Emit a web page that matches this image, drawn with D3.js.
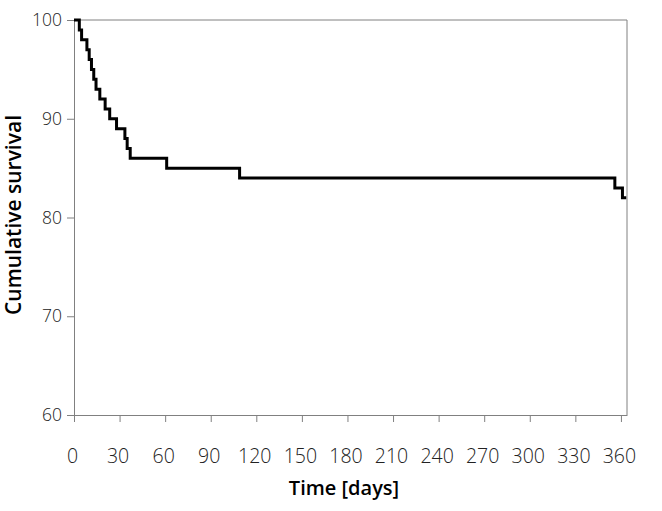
<!DOCTYPE html>
<html>
<head>
<meta charset="utf-8">
<script src="https://cdn.jsdelivr.net/npm/d3@7"></script>
<style>
  body { margin: 0; background: #fff; }
  svg { display: block; font-family: "Open Sans", sans-serif; }
</style>
</head>
<body>
<div id="chart"></div>
<script>
// event times (days) and survival (%) after each step
const days = [0, 3.5, 5, 8.5, 10, 11.5, 13, 14.5, 17, 20.5, 23.5, 28, 33.5, 35, 37, 61, 109, 356, 361, 363.5];
const survival = [100, 99, 98, 97, 96, 95, 94, 93, 92, 91, 90, 89, 88, 87, 86, 85, 84, 83, 82, 82];
const xTicks = [0, 30, 60, 90, 120, 150, 180, 210, 240, 270, 300, 330, 360];
const yTicks = [60, 70, 80, 90, 100];

const width = 662;
const height = 511;
const margin = { top: 20, right: 35, bottom: 96, left: 74 };
const axisColor = "#808080";

const svg = d3
  .select("#chart")
  .append("svg")
  .attr("width", width)
  .attr("height", height);

const x = d3
  .scaleLinear()
  .domain([0, 364])
  .range([margin.left, width - margin.right]);

const y = d3
  .scaleLinear()
  .domain([60, 100])
  .range([height - margin.bottom, margin.top]);

// frame: top and right borders
svg
  .append("line")
  .attr("x1", x(0))
  .attr("x2", x(364))
  .attr("y1", y(100))
  .attr("y2", y(100))
  .attr("stroke", axisColor);

svg
  .append("line")
  .attr("x1", x(364))
  .attr("x2", x(364))
  .attr("y1", y(100))
  .attr("y2", y(60))
  .attr("stroke", axisColor);

const xAxis = svg
  .append("g")
  .attr("transform", `translate(0,${y(60)})`)
  .call(
    d3.axisBottom(x).tickValues(xTicks).tickSize(7).tickSizeOuter(0).tickPadding(27),
  );

const yAxis = svg
  .append("g")
  .attr("transform", `translate(${x(0)},0)`)
  .call(d3.axisLeft(y).tickValues(yTicks).tickSize(7).tickSizeOuter(0).tickPadding(5));

[xAxis, yAxis].forEach((g) => {
  g.select(".domain").attr("stroke", axisColor);
  g.selectAll(".tick line").attr("stroke", axisColor);
  g.selectAll(".tick text")
    .attr("fill", "#222")
    .style("font-family", "'Open Sans', sans-serif")
    .style("font-weight", 300);
});

xAxis.selectAll(".tick text").style("font-size", "19.5px").attr("dx", -2);
yAxis.selectAll(".tick text").style("font-size", "17.5px");

const points = days.map((d, i) => [d, survival[i]]);

const line = d3
  .line()
  .x((d) => x(d[0]))
  .y((d) => y(d[1]))
  .curve(d3.curveStepAfter);

svg
  .append("path")
  .datum(points)
  .attr("fill", "none")
  .attr("stroke", "#000")
  .attr("stroke-width", 3)
  .attr("d", line);

svg
  .append("text")
  .attr("x", 344)
  .attr("y", 495)
  .attr("text-anchor", "middle")
  .style("font-size", "20px")
  .style("font-weight", 600)
  .attr("fill", "#000")
  .text("Time [days]");

svg
  .append("text")
  .attr("transform", "translate(21,215) rotate(-90)")
  .attr("text-anchor", "middle")
  .style("font-size", "21px")
  .style("font-weight", 600)
  .attr("fill", "#000")
  .text("Cumulative survival");
</script>
</body>
</html>
